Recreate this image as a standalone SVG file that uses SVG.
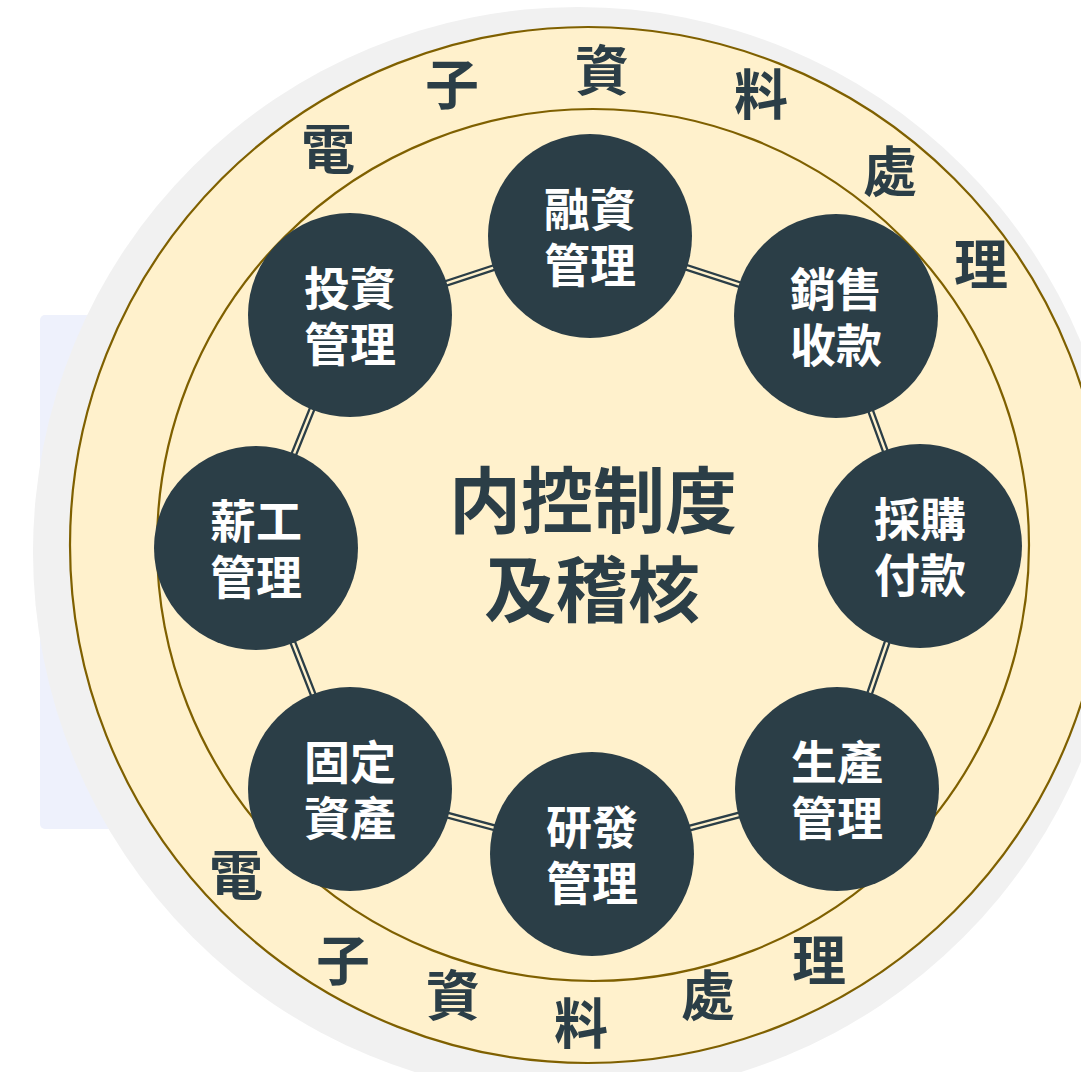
<svg xmlns="http://www.w3.org/2000/svg" width="1081" height="1072" viewBox="0 0 1081 1072">
<style>
.ring{fill:#fff1cc;stroke:#7f6000;stroke-width:2.2}
.node{fill:#2b3e47}
.nt{font-family:"Noto Sans CJK TC","Noto Sans CJK JP",sans-serif;font-weight:700;font-size:46px;fill:#ffffff;text-anchor:middle}
.ot{font-family:"Noto Sans CJK TC","Noto Sans CJK JP",sans-serif;font-weight:700;font-size:54px;fill:#2b3e47;text-anchor:middle}
.ct{font-family:"Noto Sans CJK JP","Noto Sans CJK TC",sans-serif;font-weight:700;font-size:72px;fill:#2b3e47;text-anchor:middle}
.c1{stroke:#2b3e47;stroke-width:7;fill:none}
.c2{stroke:#fff1cc;stroke-width:2.4;fill:none}
</style>
<rect width="1081" height="1072" fill="#ffffff"/>
<rect x="40" y="315" width="420" height="514" rx="5" fill="#eef1fc"/>
<circle cx="578" cy="552" r="545" fill="#f1f1f1"/>
<g id="outer-ring">
<circle class="ring" cx="588" cy="545" r="518"/>
<circle class="ring" cx="593" cy="545" r="436"/>
</g>
<g id="ring-label">
<text class="ot" x="328" y="170">電</text>
<text class="ot" x="452" y="105">子</text>
<text class="ot" x="602" y="91">資</text>
<text class="ot" x="761" y="115">料</text>
<text class="ot" x="890" y="192">處</text>
<text class="ot" x="981" y="285">理</text>
<text class="ot" x="236" y="896">電</text>
<text class="ot" x="343" y="981">子</text>
<text class="ot" x="453" y="1016">資</text>
<text class="ot" x="581" y="1044">料</text>
<text class="ot" x="708" y="1016">處</text>
<text class="ot" x="819" y="981">理</text>
</g>
<g id="connectors">
<path class="c1" d="M590 236L836 316L920 546L837 789L592 854L350 789L256 548L350 315Z"/>
<path class="c2" d="M590 236L836 316L920 546L837 789L592 854L350 789L256 548L350 315Z"/>
</g>
<g id="center">
<text class="ct" x="593" y="527">内控制度</text>
<text class="ct" x="592" y="616">及稽核</text>
</g>
<g id="n-rongzi"><circle class="node" cx="590" cy="236" r="102"/><text class="nt" x="590" y="226">融資</text><text class="nt" x="590" y="282">管理</text></g>
<g id="n-xiaoshou"><circle class="node" cx="836" cy="316" r="102"/><text class="nt" x="836" y="306">銷售</text><text class="nt" x="836" y="362">收款</text></g>
<g id="n-caigou"><circle class="node" cx="920" cy="546" r="102"/><text class="nt" x="920" y="536">採購</text><text class="nt" x="920" y="592">付款</text></g>
<g id="n-shengchan"><circle class="node" cx="837" cy="789" r="102"/><text class="nt" x="837" y="779">生產</text><text class="nt" x="837" y="835">管理</text></g>
<g id="n-yanfa"><circle class="node" cx="592" cy="854" r="102"/><text class="nt" x="592" y="844">研發</text><text class="nt" x="592" y="900">管理</text></g>
<g id="n-guding"><circle class="node" cx="350" cy="789" r="102"/><text class="nt" x="350" y="779">固定</text><text class="nt" x="350" y="835">資產</text></g>
<g id="n-xingong"><circle class="node" cx="256" cy="548" r="102"/><text class="nt" x="256" y="538">薪工</text><text class="nt" x="256" y="594">管理</text></g>
<g id="n-touzi"><circle class="node" cx="350" cy="315" r="102"/><text class="nt" x="350" y="305">投資</text><text class="nt" x="350" y="361">管理</text></g>
</svg>
